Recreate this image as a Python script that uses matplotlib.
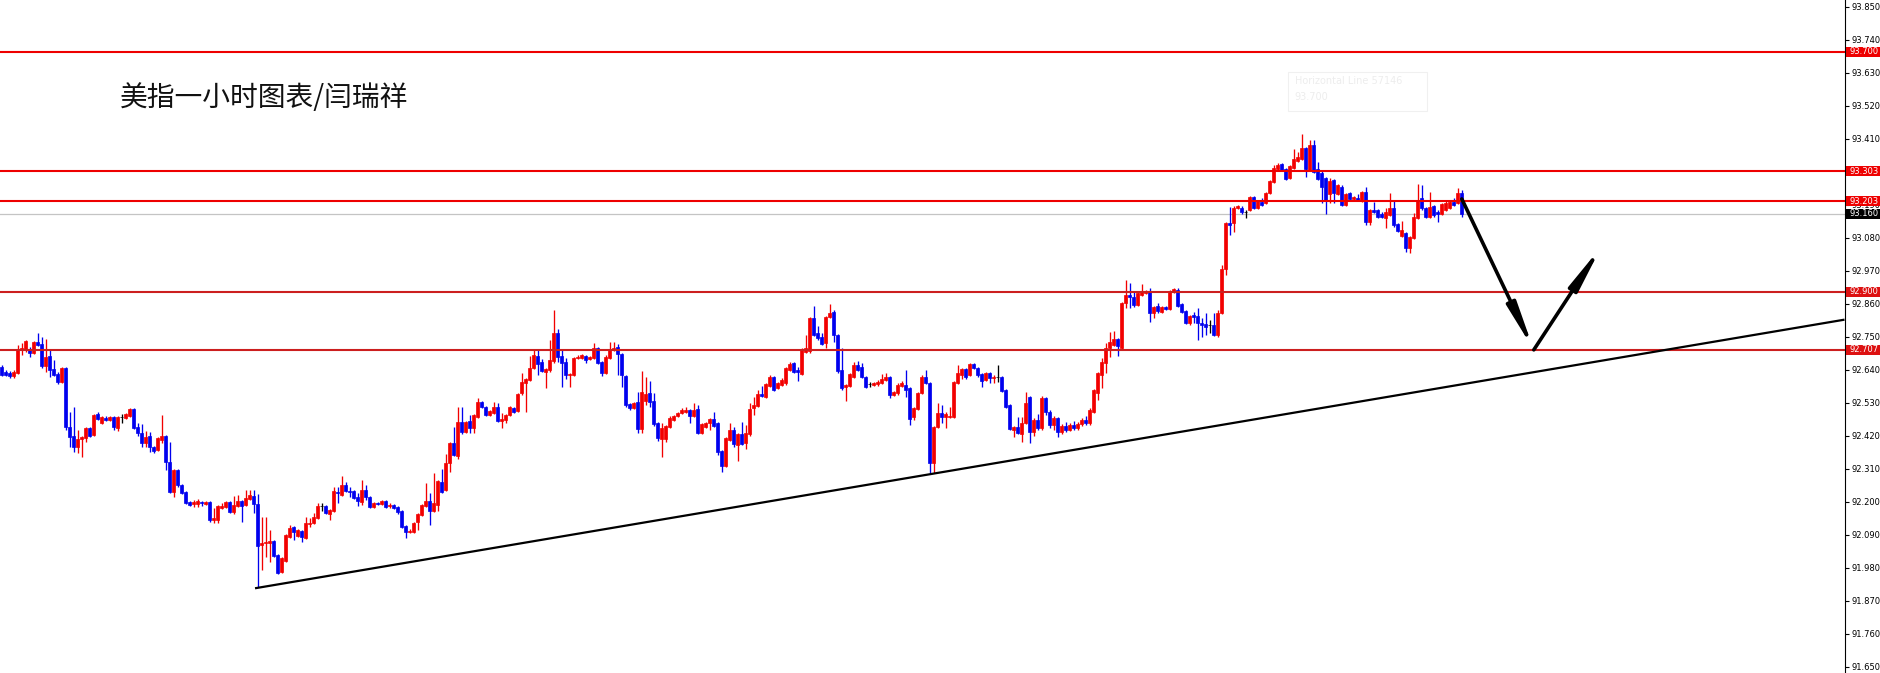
import matplotlib
matplotlib.use("Agg")
import matplotlib.pyplot as plt
import matplotlib.transforms as mtransforms
from matplotlib.patches import Rectangle

# hourly candles, oldest first
opens = [
    92.650, 92.633, 92.630, 92.620, 92.630, 92.706, 92.706, 92.706, 92.696, 92.733,
    92.726, 92.653, 92.686, 92.643, 92.626, 92.600, 92.646, 92.450, 92.420, 92.383,
    92.410, 92.413, 92.446, 92.423, 92.493, 92.463, 92.480, 92.473, 92.483, 92.446,
    92.483, 92.480, 92.486, 92.510, 92.450, 92.430, 92.396, 92.420, 92.383, 92.373,
    92.406, 92.420, 92.333, 92.233, 92.306, 92.256, 92.233, 92.200, 92.193, 92.193,
    92.200, 92.193, 92.200, 92.140, 92.140, 92.180, 92.183, 92.200, 92.166, 92.186,
    92.203, 92.190, 92.210, 92.220, 92.193, 92.056, 92.063, 92.063, 92.070, 92.023,
    91.966, 92.003, 92.083, 92.116, 92.086, 92.103, 92.080, 92.126, 92.130, 92.146,
    92.186, 92.186, 92.160, 92.170, 92.233, 92.223, 92.256, 92.236, 92.236, 92.216,
    92.200, 92.240, 92.216, 92.183, 92.196, 92.193, 92.203, 92.186, 92.190, 92.183,
    92.170, 92.120, 92.100, 92.100, 92.133, 92.156, 92.186, 92.203, 92.170, 92.190,
    92.266, 92.240, 92.330, 92.396, 92.353, 92.466, 92.433, 92.470, 92.446, 92.483,
    92.533, 92.516, 92.490, 92.496, 92.516, 92.470, 92.473, 92.490, 92.513, 92.503,
    92.563, 92.596, 92.606, 92.646, 92.686, 92.666, 92.633, 92.640, 92.670, 92.763,
    92.686, 92.666, 92.623, 92.623, 92.680, 92.680, 92.686, 92.676, 92.680, 92.713,
    92.666, 92.630, 92.680, 92.706, 92.716, 92.693, 92.620, 92.526, 92.513, 92.533,
    92.443, 92.536, 92.563, 92.536, 92.463, 92.410, 92.410, 92.450, 92.473, 92.486,
    92.496, 92.500, 92.506, 92.486, 92.510, 92.430, 92.450, 92.463, 92.476, 92.463,
    92.370, 92.320, 92.406, 92.440, 92.390, 92.426, 92.396, 92.426, 92.513, 92.520,
    92.560, 92.550, 92.586, 92.616, 92.580, 92.590, 92.596, 92.640, 92.663, 92.640,
    92.626, 92.700, 92.703, 92.813, 92.763, 92.750, 92.730, 92.816, 92.833, 92.756,
    92.640, 92.583, 92.586, 92.616, 92.656, 92.650, 92.616, 92.593, 92.590, 92.593,
    92.596, 92.606, 92.616, 92.556, 92.563, 92.586, 92.590, 92.580, 92.483, 92.510,
    92.563, 92.616, 92.596, 92.330, 92.450, 92.496, 92.483, 92.483, 92.483, 92.596,
    92.623, 92.643, 92.623, 92.660, 92.646, 92.626, 92.606, 92.630, 92.613, 92.616,
    92.616, 92.573, 92.523, 92.440, 92.450, 92.426, 92.463, 92.550, 92.433, 92.473,
    92.446, 92.546, 92.500, 92.456, 92.480, 92.433, 92.453, 92.440, 92.456, 92.446,
    92.460, 92.473, 92.463, 92.500, 92.563, 92.623, 92.663, 92.713, 92.723, 92.743,
    92.713, 92.863, 92.890, 92.883, 92.856, 92.890, 92.896, 92.900, 92.830, 92.853,
    92.833, 92.850, 92.843, 92.900, 92.906, 92.860, 92.836, 92.796, 92.823, 92.820,
    92.796, 92.793, 92.790, 92.790, 92.756, 92.830, 92.976, 93.130, 93.130, 93.180,
    93.180, 93.166, 93.173, 93.216, 93.180, 93.200, 93.196, 93.230, 93.266, 93.310,
    93.326, 93.310, 93.280, 93.313, 93.336, 93.343, 93.380, 93.306, 93.390, 93.310,
    93.296, 93.280, 93.226, 93.273, 93.226, 93.250, 93.190, 93.230, 93.210, 93.213,
    93.203, 93.233, 93.133, 93.173, 93.173, 93.160, 93.146, 93.156, 93.180, 93.126,
    93.086, 93.096, 93.046, 93.080, 93.146, 93.213, 93.180, 93.150, 93.186, 93.166,
    93.160, 93.173, 93.180, 93.200, 93.196, 93.230,
]
highs = [
    92.656, 92.640, 92.636, 92.640, 92.723, 92.730, 92.740, 92.716, 92.736, 92.763,
    92.750, 92.743, 92.706, 92.673, 92.633, 92.650, 92.650, 92.500, 92.516, 92.440,
    92.420, 92.450, 92.450, 92.493, 92.500, 92.486, 92.486, 92.486, 92.486, 92.486,
    92.493, 92.496, 92.513, 92.513, 92.463, 92.460, 92.436, 92.433, 92.386, 92.416,
    92.490, 92.423, 92.400, 92.310, 92.310, 92.260, 92.236, 92.203, 92.206, 92.210,
    92.203, 92.203, 92.203, 92.180, 92.190, 92.196, 92.203, 92.203, 92.220, 92.223,
    92.206, 92.240, 92.240, 92.240, 92.226, 92.150, 92.150, 92.106, 92.073, 92.026,
    92.016, 92.093, 92.123, 92.120, 92.110, 92.106, 92.150, 92.146, 92.163, 92.196,
    92.196, 92.190, 92.176, 92.250, 92.250, 92.286, 92.266, 92.250, 92.240, 92.230,
    92.273, 92.256, 92.220, 92.200, 92.200, 92.206, 92.206, 92.196, 92.193, 92.186,
    92.173, 92.123, 92.110, 92.133, 92.163, 92.193, 92.263, 92.230, 92.296, 92.273,
    92.310, 92.360, 92.400, 92.450, 92.516, 92.516, 92.470, 92.490, 92.493, 92.546,
    92.536, 92.520, 92.506, 92.533, 92.530, 92.496, 92.493, 92.520, 92.516, 92.563,
    92.630, 92.613, 92.686, 92.706, 92.706, 92.676, 92.646, 92.740, 92.840, 92.776,
    92.706, 92.680, 92.630, 92.683, 92.690, 92.693, 92.690, 92.686, 92.730, 92.716,
    92.670, 92.690, 92.733, 92.733, 92.726, 92.696, 92.623, 92.530, 92.533, 92.566,
    92.636, 92.616, 92.603, 92.563, 92.466, 92.463, 92.456, 92.486, 92.490, 92.500,
    92.513, 92.516, 92.510, 92.530, 92.523, 92.463, 92.466, 92.480, 92.500, 92.466,
    92.373, 92.416, 92.463, 92.450, 92.430, 92.466, 92.456, 92.530, 92.550, 92.573,
    92.586, 92.596, 92.623, 92.620, 92.600, 92.613, 92.650, 92.666, 92.666, 92.650,
    92.713, 92.756, 92.816, 92.853, 92.786, 92.763, 92.820, 92.860, 92.840, 92.760,
    92.713, 92.593, 92.630, 92.666, 92.670, 92.663, 92.620, 92.600, 92.600, 92.606,
    92.626, 92.630, 92.620, 92.570, 92.596, 92.603, 92.640, 92.583, 92.516, 92.566,
    92.623, 92.640, 92.600, 92.453, 92.530, 92.523, 92.500, 92.516, 92.603, 92.656,
    92.646, 92.646, 92.663, 92.663, 92.650, 92.630, 92.633, 92.633, 92.623, 92.656,
    92.620, 92.576, 92.526, 92.453, 92.483, 92.483, 92.566, 92.553, 92.480, 92.493,
    92.553, 92.550, 92.506, 92.486, 92.483, 92.460, 92.466, 92.463, 92.470, 92.466,
    92.480, 92.486, 92.513, 92.576, 92.633, 92.680, 92.730, 92.766, 92.770, 92.746,
    92.866, 92.940, 92.930, 92.903, 92.903, 92.926, 92.906, 92.913, 92.853, 92.863,
    92.853, 92.853, 92.906, 92.913, 92.913, 92.863, 92.840, 92.823, 92.833, 92.846,
    92.813, 92.830, 92.806, 92.830, 92.840, 92.990, 93.133, 93.183, 93.186, 93.190,
    93.186, 93.173, 93.220, 93.220, 93.206, 93.213, 93.233, 93.273, 93.323, 93.330,
    93.330, 93.313, 93.323, 93.376, 93.366, 93.426, 93.383, 93.406, 93.406, 93.333,
    93.306, 93.283, 93.280, 93.276, 93.260, 93.256, 93.230, 93.233, 93.220, 93.226,
    93.236, 93.250, 93.176, 93.200, 93.176, 93.166, 93.180, 93.230, 93.206, 93.130,
    93.136, 93.100, 93.086, 93.163, 93.260, 93.256, 93.183, 93.233, 93.190, 93.173,
    93.196, 93.206, 93.203, 93.213, 93.246, 93.240,
]
lows = [
    92.620, 92.620, 92.613, 92.613, 92.626, 92.690, 92.700, 92.683, 92.693, 92.720,
    92.646, 92.633, 92.616, 92.620, 92.593, 92.596, 92.440, 92.383, 92.366, 92.363,
    92.350, 92.400, 92.416, 92.420, 92.473, 92.460, 92.470, 92.470, 92.440, 92.436,
    92.463, 92.476, 92.483, 92.443, 92.420, 92.383, 92.383, 92.366, 92.363, 92.370,
    92.396, 92.306, 92.230, 92.216, 92.250, 92.226, 92.193, 92.186, 92.183, 92.183,
    92.186, 92.190, 92.133, 92.130, 92.130, 92.176, 92.180, 92.163, 92.160, 92.183,
    92.133, 92.186, 92.206, 92.163, 91.916, 91.973, 92.016, 92.000, 92.016, 91.960,
    91.963, 92.000, 92.080, 92.073, 92.083, 92.066, 92.076, 92.116, 92.126, 92.143,
    92.170, 92.160, 92.140, 92.166, 92.196, 92.220, 92.233, 92.216, 92.210, 92.186,
    92.190, 92.206, 92.180, 92.180, 92.190, 92.190, 92.180, 92.180, 92.176, 92.160,
    92.113, 92.080, 92.096, 92.096, 92.106, 92.153, 92.183, 92.123, 92.166, 92.170,
    92.230, 92.236, 92.300, 92.353, 92.343, 92.426, 92.430, 92.430, 92.430, 92.480,
    92.513, 92.486, 92.486, 92.493, 92.466, 92.446, 92.463, 92.486, 92.496, 92.500,
    92.556, 92.500, 92.603, 92.643, 92.623, 92.633, 92.580, 92.633, 92.663, 92.666,
    92.583, 92.610, 92.583, 92.620, 92.676, 92.676, 92.663, 92.673, 92.676, 92.660,
    92.620, 92.626, 92.676, 92.703, 92.623, 92.583, 92.516, 92.506, 92.510, 92.430,
    92.430, 92.523, 92.516, 92.453, 92.403, 92.350, 92.400, 92.446, 92.470, 92.483,
    92.493, 92.496, 92.463, 92.483, 92.426, 92.426, 92.446, 92.440, 92.450, 92.356,
    92.300, 92.316, 92.403, 92.383, 92.336, 92.390, 92.376, 92.420, 92.490, 92.516,
    92.550, 92.546, 92.583, 92.570, 92.576, 92.586, 92.590, 92.636, 92.630, 92.603,
    92.623, 92.696, 92.696, 92.753, 92.740, 92.723, 92.713, 92.813, 92.733, 92.630,
    92.573, 92.536, 92.583, 92.613, 92.636, 92.613, 92.580, 92.583, 92.586, 92.586,
    92.593, 92.603, 92.546, 92.553, 92.556, 92.583, 92.550, 92.456, 92.473, 92.506,
    92.560, 92.593, 92.296, 92.296, 92.446, 92.463, 92.446, 92.480, 92.480, 92.593,
    92.610, 92.610, 92.620, 92.643, 92.616, 92.583, 92.603, 92.596, 92.596, 92.600,
    92.566, 92.513, 92.440, 92.416, 92.426, 92.400, 92.460, 92.396, 92.420, 92.440,
    92.440, 92.490, 92.446, 92.440, 92.416, 92.426, 92.433, 92.436, 92.440, 92.440,
    92.453, 92.456, 92.456, 92.496, 92.540, 92.580, 92.630, 92.683, 92.720, 92.686,
    92.706, 92.846, 92.846, 92.850, 92.853, 92.886, 92.893, 92.800, 92.813, 92.830,
    92.830, 92.840, 92.840, 92.896, 92.850, 92.830, 92.793, 92.790, 92.796, 92.740,
    92.750, 92.756, 92.763, 92.753, 92.750, 92.826, 92.956, 93.090, 93.100, 93.176,
    93.160, 93.146, 93.170, 93.176, 93.176, 93.186, 93.193, 93.226, 93.263, 93.306,
    93.303, 93.273, 93.276, 93.310, 93.333, 93.340, 93.283, 93.303, 93.296, 93.273,
    93.196, 93.160, 93.196, 93.196, 93.223, 93.186, 93.186, 93.206, 93.206, 93.203,
    93.200, 93.123, 93.123, 93.163, 93.146, 93.146, 93.113, 93.153, 93.116, 93.100,
    93.083, 93.033, 93.030, 93.076, 93.143, 93.173, 93.146, 93.146, 93.150, 93.133,
    93.156, 93.170, 93.176, 93.186, 93.193, 93.150,
]
closes = [
    92.623, 92.623, 92.620, 92.633, 92.706, 92.713, 92.736, 92.696, 92.733, 92.723,
    92.653, 92.683, 92.640, 92.623, 92.600, 92.646, 92.450, 92.416, 92.383, 92.410,
    92.416, 92.446, 92.420, 92.490, 92.476, 92.483, 92.473, 92.483, 92.450, 92.483,
    92.483, 92.493, 92.510, 92.446, 92.430, 92.396, 92.416, 92.383, 92.370, 92.413,
    92.420, 92.333, 92.233, 92.306, 92.256, 92.230, 92.196, 92.190, 92.200, 92.203,
    92.196, 92.200, 92.140, 92.146, 92.186, 92.186, 92.200, 92.166, 92.190, 92.203,
    92.186, 92.213, 92.223, 92.193, 92.053, 92.063, 92.066, 92.070, 92.020, 91.963,
    92.013, 92.090, 92.113, 92.100, 92.106, 92.083, 92.130, 92.130, 92.150, 92.186,
    92.186, 92.163, 92.173, 92.236, 92.230, 92.256, 92.236, 92.233, 92.213, 92.203,
    92.240, 92.216, 92.183, 92.196, 92.193, 92.203, 92.183, 92.190, 92.180, 92.166,
    92.116, 92.100, 92.103, 92.130, 92.160, 92.190, 92.203, 92.170, 92.196, 92.270,
    92.233, 92.330, 92.396, 92.356, 92.466, 92.433, 92.466, 92.446, 92.490, 92.533,
    92.516, 92.490, 92.503, 92.516, 92.470, 92.476, 92.490, 92.516, 92.500, 92.560,
    92.600, 92.610, 92.646, 92.690, 92.660, 92.636, 92.643, 92.673, 92.763, 92.683,
    92.663, 92.623, 92.626, 92.680, 92.683, 92.690, 92.673, 92.683, 92.713, 92.663,
    92.630, 92.683, 92.706, 92.713, 92.693, 92.623, 92.523, 92.513, 92.530, 92.443,
    92.566, 92.560, 92.533, 92.460, 92.413, 92.446, 92.453, 92.480, 92.486, 92.496,
    92.506, 92.506, 92.486, 92.506, 92.430, 92.460, 92.463, 92.476, 92.453, 92.366,
    92.320, 92.413, 92.440, 92.393, 92.426, 92.393, 92.430, 92.510, 92.523, 92.560,
    92.553, 92.593, 92.616, 92.573, 92.596, 92.606, 92.646, 92.660, 92.633, 92.633,
    92.710, 92.713, 92.813, 92.756, 92.746, 92.726, 92.816, 92.830, 92.756, 92.636,
    92.580, 92.590, 92.626, 92.656, 92.640, 92.616, 92.583, 92.593, 92.596, 92.600,
    92.610, 92.616, 92.556, 92.566, 92.590, 92.596, 92.573, 92.476, 92.513, 92.563,
    92.616, 92.596, 92.330, 92.450, 92.496, 92.483, 92.493, 92.486, 92.600, 92.630,
    92.643, 92.616, 92.660, 92.646, 92.623, 92.603, 92.630, 92.613, 92.616, 92.616,
    92.570, 92.516, 92.443, 92.450, 92.430, 92.463, 92.530, 92.433, 92.473, 92.446,
    92.546, 92.500, 92.456, 92.480, 92.433, 92.453, 92.440, 92.456, 92.446, 92.460,
    92.473, 92.463, 92.506, 92.573, 92.630, 92.666, 92.713, 92.733, 92.743, 92.720,
    92.863, 92.890, 92.883, 92.856, 92.896, 92.900, 92.903, 92.830, 92.850, 92.836,
    92.850, 92.843, 92.903, 92.910, 92.853, 92.833, 92.796, 92.820, 92.816, 92.796,
    92.790, 92.783, 92.790, 92.756, 92.830, 92.976, 93.130, 93.123, 93.180, 93.186,
    93.166, 93.166, 93.216, 93.180, 93.203, 93.190, 93.230, 93.270, 93.313, 93.323,
    93.306, 93.276, 93.320, 93.343, 93.350, 93.380, 93.310, 93.390, 93.300, 93.276,
    93.250, 93.203, 93.270, 93.230, 93.256, 93.190, 93.226, 93.210, 93.216, 93.206,
    93.233, 93.133, 93.173, 93.166, 93.150, 93.150, 93.166, 93.180, 93.123, 93.103,
    93.106, 93.046, 93.083, 93.150, 93.206, 93.180, 93.150, 93.183, 93.156, 93.160,
    93.193, 93.196, 93.200, 93.190, 93.230, 93.160,
]

levels_bright = [93.700, 93.303, 93.203]
levels_dark = [92.900, 92.707]
bid = 93.160
price_ticks = [93.850, 93.740, 93.630, 93.520, 93.410, 93.300, 93.190, 93.080,
               92.970, 92.860, 92.750, 92.640, 92.530, 92.420, 92.310, 92.200,
               92.090, 91.980, 91.870, 91.760, 91.650]
title = "美指一小时图表/闫瑞祥"

# trend line (candle index, price) and the projected path
trend_x = [63.6, 460.4]
trend_y = [91.913, 92.807]
path_x = [365, 383, 400]
path_y = [93.21, 92.707, 93.053]

UP = "#f20000"
DOWN = "#0000ee"

fig = plt.figure(figsize=(18.81, 6.73), dpi=100)
ax = fig.add_axes([0, 0, 1845 / 1881, 1])

xs = list(range(len(opens)))
cols = []
for o, c in zip(opens, closes):
    if c > o:
        cols.append(UP)
    elif c < o:
        cols.append(DOWN)
    else:
        cols.append("black")

ax.axhline(bid, color="#c4c4c4", lw=0.9, zorder=1)
ax.vlines(xs, lows, highs, colors=cols, lw=0.95, zorder=2)
bottoms = [min(o, c) for o, c in zip(opens, closes)]
heights = [abs(c - o) for o, c in zip(opens, closes)]
ax.bar(xs, heights, width=0.78, bottom=bottoms, color=cols, edgecolor=cols,
       linewidth=0.5, zorder=3)

for lv in levels_bright:
    ax.axhline(lv, color="#ee0000", lw=1.5, zorder=4)
for lv in levels_dark:
    ax.axhline(lv, color="#cc1f1f", lw=1.5, zorder=4)

ax.plot(trend_x, trend_y, color="black", lw=1.6, zorder=5)

for k in range(2):
    ax.annotate("", xy=(path_x[k + 1], path_y[k + 1]), xytext=(path_x[k], path_y[k]),
                arrowprops=dict(arrowstyle="-|>,head_length=1.3,head_width=0.14",
                                mutation_scale=20, lw=2.6, color="black",
                                shrinkA=0, shrinkB=0),
                zorder=6)

# faint tooltip left on the chart
ax.add_patch(Rectangle((321.6, 93.503), 34.7, 0.13, facecolor="white",
                       edgecolor="#f0f0f0", lw=0.8, zorder=6))
ax.text(323.2, 93.593, "Horizontal Line 57146", fontsize=7, color="#ededed", zorder=7)
ax.text(323.2, 93.540, "93.700", fontsize=7, color="#ededed", zorder=7)

ax.set_xlim(-0.43, 460.8)
ax.set_ylim(91.630, 93.873)
for s in ["top", "left", "bottom"]:
    ax.spines[s].set_visible(False)
ax.spines["right"].set_linewidth(0.8)
ax.set_xticks([])
ax.yaxis.tick_right()
ax.set_yticks(price_ticks)
ax.set_yticklabels([f"{v:.3f}" for v in price_ticks])
ax.tick_params(axis="y", length=3, width=0.8, labelsize=6, pad=2)

# price tags on the right scale
trans = mtransforms.blended_transform_factory(fig.transFigure, ax.transData)
tags = [(lv, "#ee0000") for lv in levels_bright] + \
       [(lv, "#dd1111") for lv in levels_dark] + [(bid, "black")]
for lv, col in tags:
    fig.add_artist(Rectangle((1846 / 1881, lv - 0.0175), 34 / 1881, 0.035,
                             transform=trans, facecolor=col, edgecolor="none"))
    fig.text(1850 / 1881, lv, f"{lv:.3f}", transform=trans, color="white",
             fontsize=6, va="center", ha="left")

fig.text(120 / 1881, 1 - 98 / 673, title, fontsize=20, color="#111111",
         va="center", ha="left", family=["Noto Sans CJK SC", "DejaVu Sans"])

fig.savefig("out.png", dpi=100, facecolor="white")
